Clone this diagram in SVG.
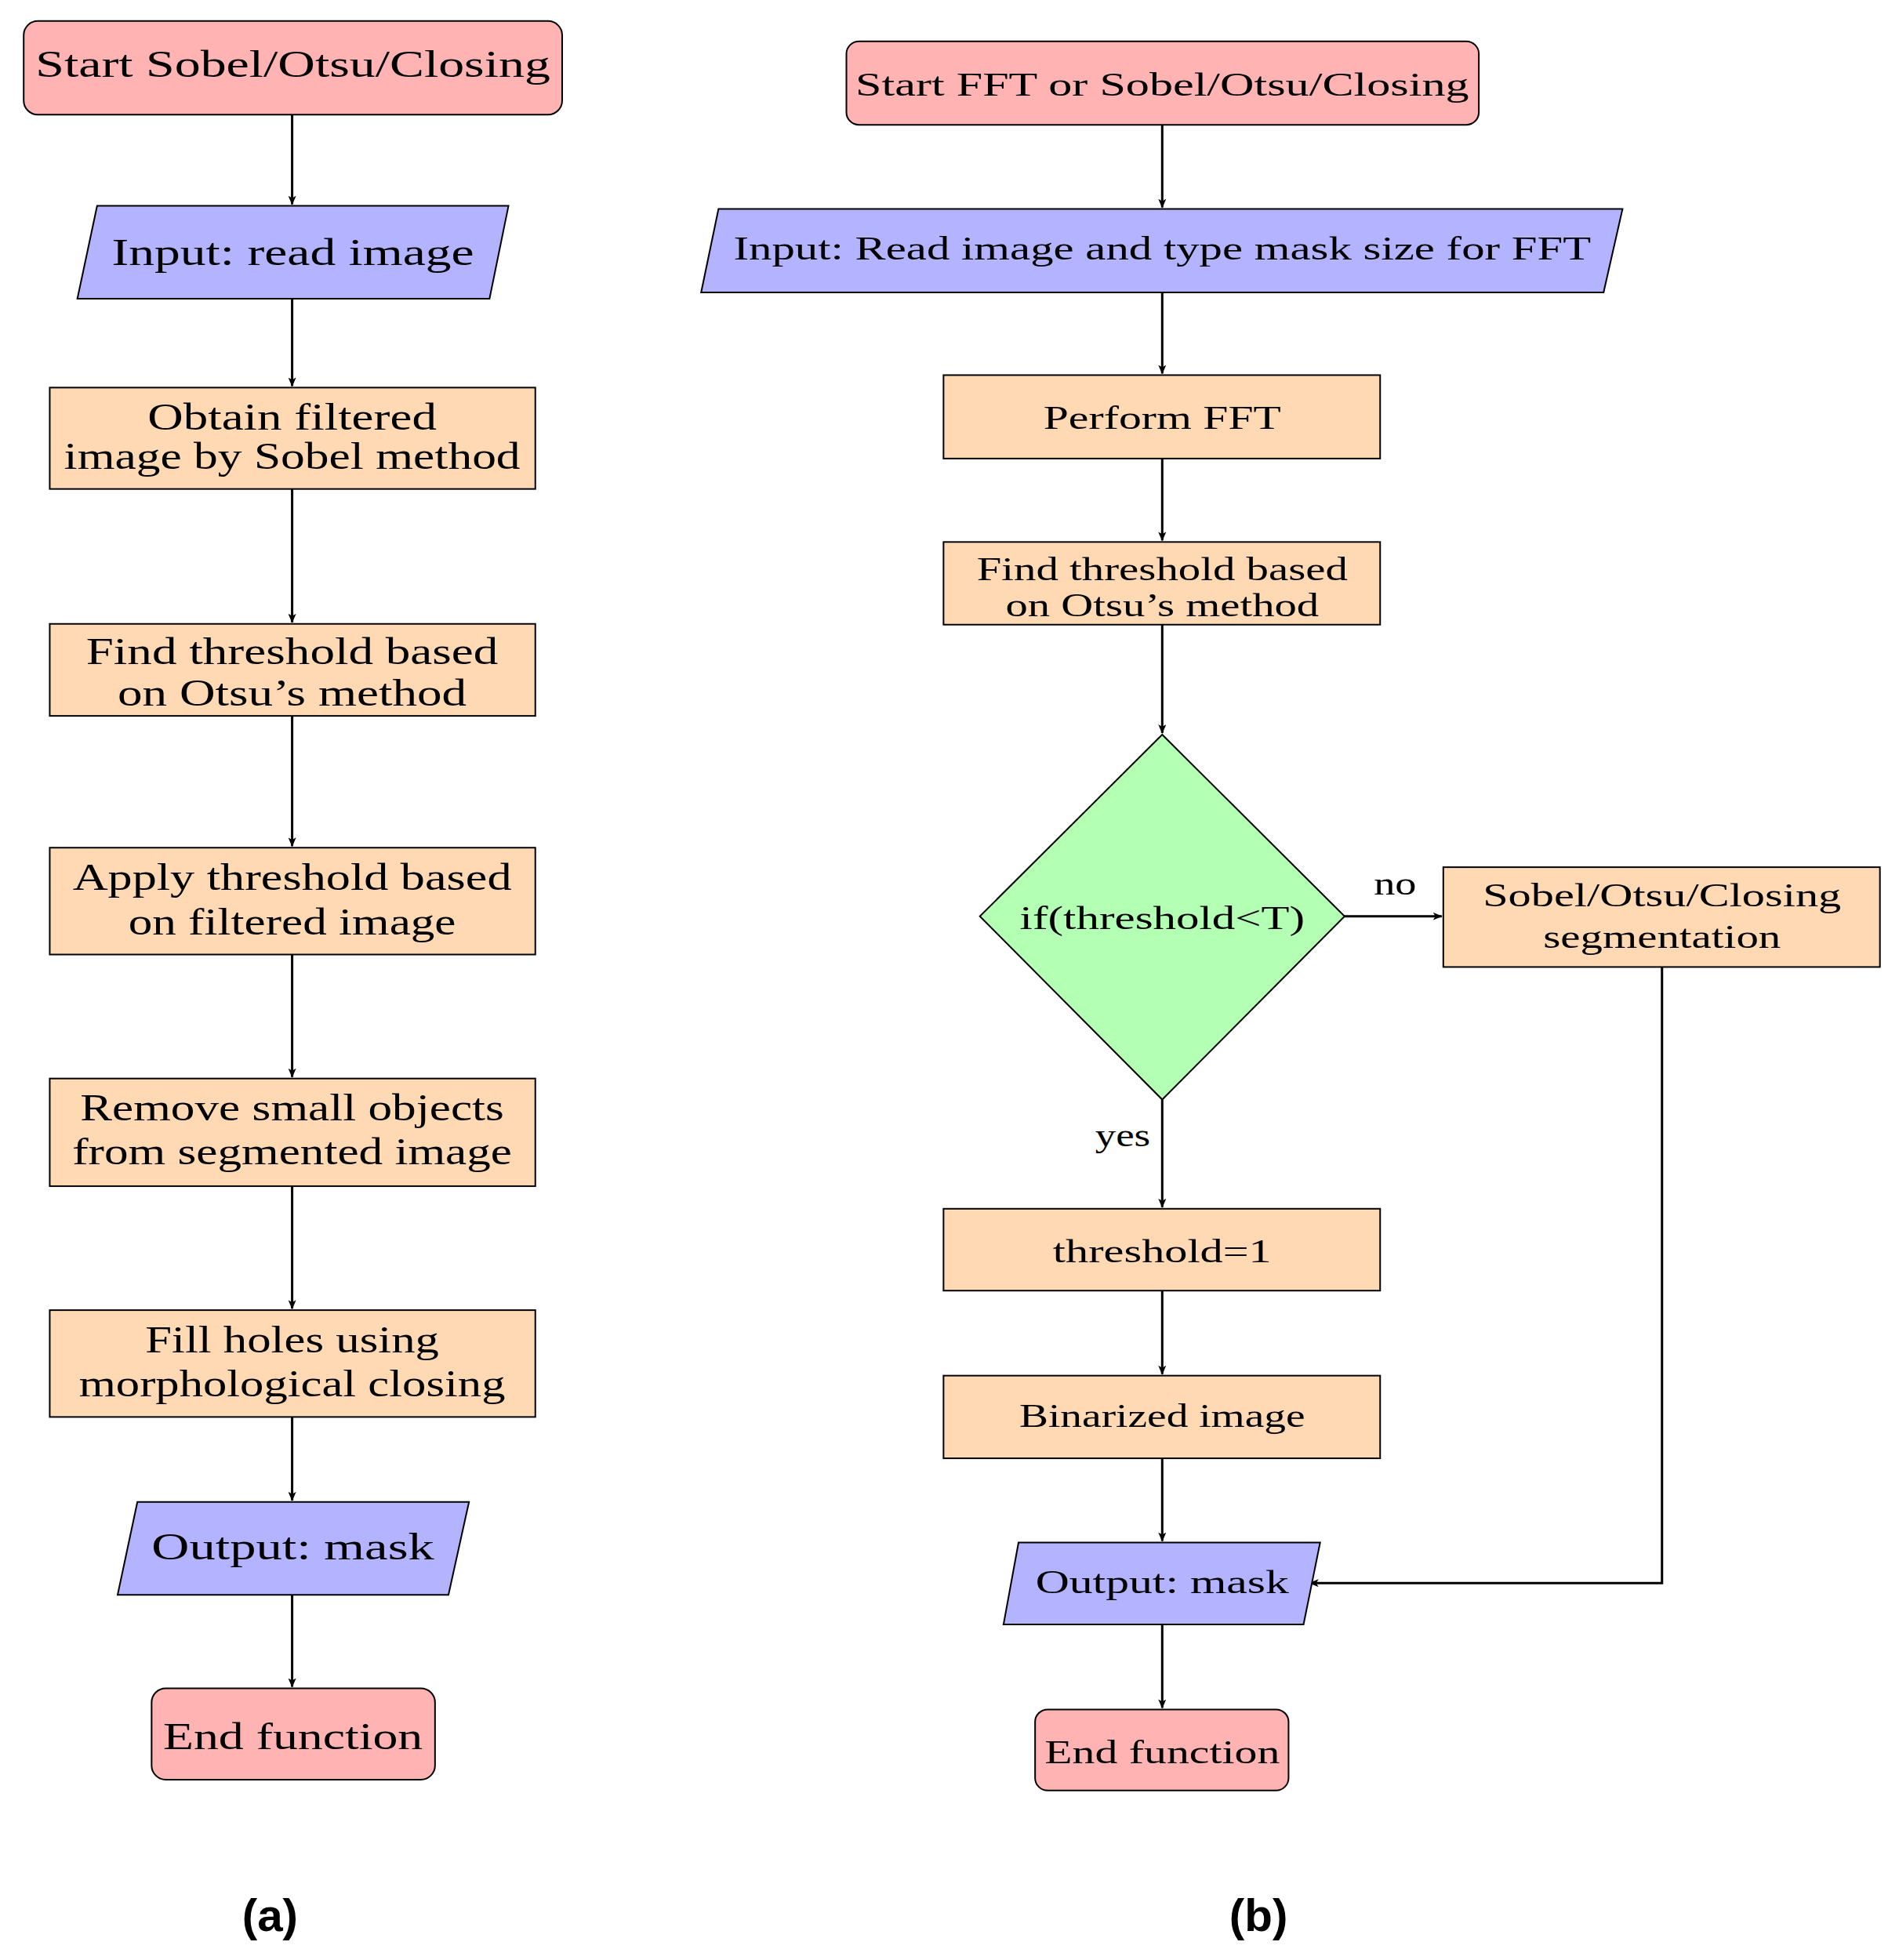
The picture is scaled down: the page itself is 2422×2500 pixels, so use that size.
<svg xmlns="http://www.w3.org/2000/svg" width="2422" height="2500" viewBox="0 0 2422 2500">
<style>
.t{font-family:"Liberation Serif","DejaVu Serif",serif;fill:#000;text-anchor:middle}
.l{font-size:48px}.r{font-size:43px}
.term{fill:#FFB3B3;stroke:#000;stroke-width:2}
.io{fill:#B3B3FF;stroke:#000;stroke-width:2}
.proc{fill:#FFD9B3;stroke:#000;stroke-width:2}
.dec{fill:#B3FFB3;stroke:#000;stroke-width:2}
.c{fill:none;stroke:#000;stroke-width:3;marker-end:url(#a)}
.lab{font-family:"Liberation Sans","DejaVu Sans",sans-serif;font-weight:bold;font-size:58px;text-anchor:middle}
</style>
<defs><marker id="a" markerWidth="12" markerHeight="10" refX="11" refY="5" orient="auto" markerUnits="userSpaceOnUse"><path d="M0,0 L12,5 L0,10 L3,5 Z" fill="#000"/></marker></defs>
<rect width="2422" height="2500" fill="#fff"/>
<g transform="scale(1.007,0.9947)">
<g id="connectors">
<path class="c" d="M370,147 V262"/>
<path class="c" d="M370,383 V495"/>
<path class="c" d="M370,627 V798"/>
<path class="c" d="M370,918 V1085"/>
<path class="c" d="M370,1224 V1381"/>
<path class="c" d="M370,1521 V1678"/>
<path class="c" d="M370,1817 V1924"/>
<path class="c" d="M370,2045 V2163"/>
<path class="c" d="M1472,160 V266"/>
<path class="c" d="M1472,375 V479"/>
<path class="c" d="M1472,588 V693"/>
<path class="c" d="M1472,801 V940"/>
<path class="c" d="M1703,1175 H1826"/>
<path class="c" d="M1472,1410 V1548"/>
<path class="c" d="M1472,1655 V1762"/>
<path class="c" d="M1472,1870 V1976"/>
<path class="c" d="M2105,1240 V2030 H1659"/>
<path class="c" d="M1472,2083 V2190"/>
</g>
<g id="a_start"><rect class="term" x="30" y="27" width="682" height="120" rx="18"/><text class="t l" x="371" y="99" textLength="652" lengthAdjust="spacingAndGlyphs">Start Sobel/Otsu/Closing</text></g>
<g id="a_input"><polygon class="io" points="123,264 644,264 620,383 98,383"/><text class="t l" x="371" y="340" textLength="459" lengthAdjust="spacingAndGlyphs">Input: read image</text></g>
<g id="a_sobel"><rect class="proc" x="63" y="497" width="615" height="130"/><text class="t l" x="370" y="551" textLength="366" lengthAdjust="spacingAndGlyphs">Obtain filtered</text><text class="t l" x="370" y="601" textLength="578" lengthAdjust="spacingAndGlyphs">image by Sobel method</text></g>
<g id="a_find"><rect class="proc" x="63" y="800" width="615" height="118"/><text class="t l" x="370" y="852" textLength="522" lengthAdjust="spacingAndGlyphs">Find threshold based</text><text class="t l" x="370" y="905" textLength="442" lengthAdjust="spacingAndGlyphs">on Otsu’s method</text></g>
<g id="a_apply"><rect class="proc" x="63" y="1087" width="615" height="137"/><text class="t l" x="370" y="1141" textLength="556" lengthAdjust="spacingAndGlyphs">Apply threshold based</text><text class="t l" x="370" y="1198" textLength="415" lengthAdjust="spacingAndGlyphs">on filtered image</text></g>
<g id="a_remove"><rect class="proc" x="63" y="1383" width="615" height="138"/><text class="t l" x="370" y="1437" textLength="537" lengthAdjust="spacingAndGlyphs">Remove small objects</text><text class="t l" x="370" y="1493" textLength="557" lengthAdjust="spacingAndGlyphs">from segmented image</text></g>
<g id="a_fill"><rect class="proc" x="63" y="1680" width="615" height="137"/><text class="t l" x="370" y="1734" textLength="372" lengthAdjust="spacingAndGlyphs">Fill holes using</text><text class="t l" x="370" y="1790" textLength="540" lengthAdjust="spacingAndGlyphs">morphological closing</text></g>
<g id="a_output"><polygon class="io" points="174,1926 594,1926 568,2045 149,2045"/><text class="t l" x="371" y="2000" textLength="358" lengthAdjust="spacingAndGlyphs">Output: mask</text></g>
<g id="a_end"><rect class="term" x="192" y="2165" width="359" height="117" rx="18"/><text class="t l" x="371" y="2243" textLength="329" lengthAdjust="spacingAndGlyphs">End function</text></g>
<g id="b_start"><rect class="term" x="1072" y="53" width="801" height="107" rx="16"/><text class="t r" x="1472" y="123" textLength="777" lengthAdjust="spacingAndGlyphs">Start FFT or Sobel/Otsu/Closing</text></g>
<g id="b_input"><polygon class="io" points="910,268 2055,268 2031,375 888,375"/><text class="t r" x="1472" y="333" textLength="1086" lengthAdjust="spacingAndGlyphs">Input: Read image and type mask size for FFT</text></g>
<g id="b_fft"><rect class="proc" x="1195" y="481" width="553" height="107"/><text class="t r" x="1472" y="550" textLength="301" lengthAdjust="spacingAndGlyphs">Perform FFT</text></g>
<g id="b_find"><rect class="proc" x="1195" y="695" width="553" height="106"/><text class="t r" x="1472" y="744" textLength="470" lengthAdjust="spacingAndGlyphs">Find threshold based</text><text class="t r" x="1472" y="790" textLength="397" lengthAdjust="spacingAndGlyphs">on Otsu’s method</text></g>
<g id="b_dec"><polygon class="dec" points="1472,942 1703,1175 1472,1410 1241,1175"/><text class="t r" x="1472" y="1191" textLength="361" lengthAdjust="spacingAndGlyphs">if(threshold&lt;T)</text></g>
<g id="b_sobel"><rect class="proc" x="1828" y="1112" width="553" height="128"/><text class="t r" x="2105" y="1162" textLength="454" lengthAdjust="spacingAndGlyphs">Sobel/Otsu/Closing</text><text class="t r" x="2105" y="1215" textLength="301" lengthAdjust="spacingAndGlyphs">segmentation</text></g>
<g id="b_thr"><rect class="proc" x="1195" y="1550" width="553" height="105"/><text class="t r" x="1472" y="1619" textLength="277" lengthAdjust="spacingAndGlyphs">threshold=1</text></g>
<g id="b_bin"><rect class="proc" x="1195" y="1764" width="553" height="106"/><text class="t r" x="1472" y="1830" textLength="362" lengthAdjust="spacingAndGlyphs">Binarized image</text></g>
<g id="b_output"><polygon class="io" points="1290,1978 1672,1978 1651,2083 1271,2083"/><text class="t r" x="1472" y="2043" textLength="321" lengthAdjust="spacingAndGlyphs">Output: mask</text></g>
<g id="b_end"><rect class="term" x="1311" y="2192" width="321" height="104" rx="16"/><text class="t r" x="1472" y="2261" textLength="298" lengthAdjust="spacingAndGlyphs">End function</text></g>
<text class="t r" x="1767" y="1147" textLength="54" lengthAdjust="spacingAndGlyphs">no</text>
<text class="t r" x="1422" y="1470" textLength="70" lengthAdjust="spacingAndGlyphs">yes</text>
<text class="lab" x="342" y="2476">(a)</text>
<text class="lab" x="1594" y="2476">(b)</text>
</g>
</svg>
